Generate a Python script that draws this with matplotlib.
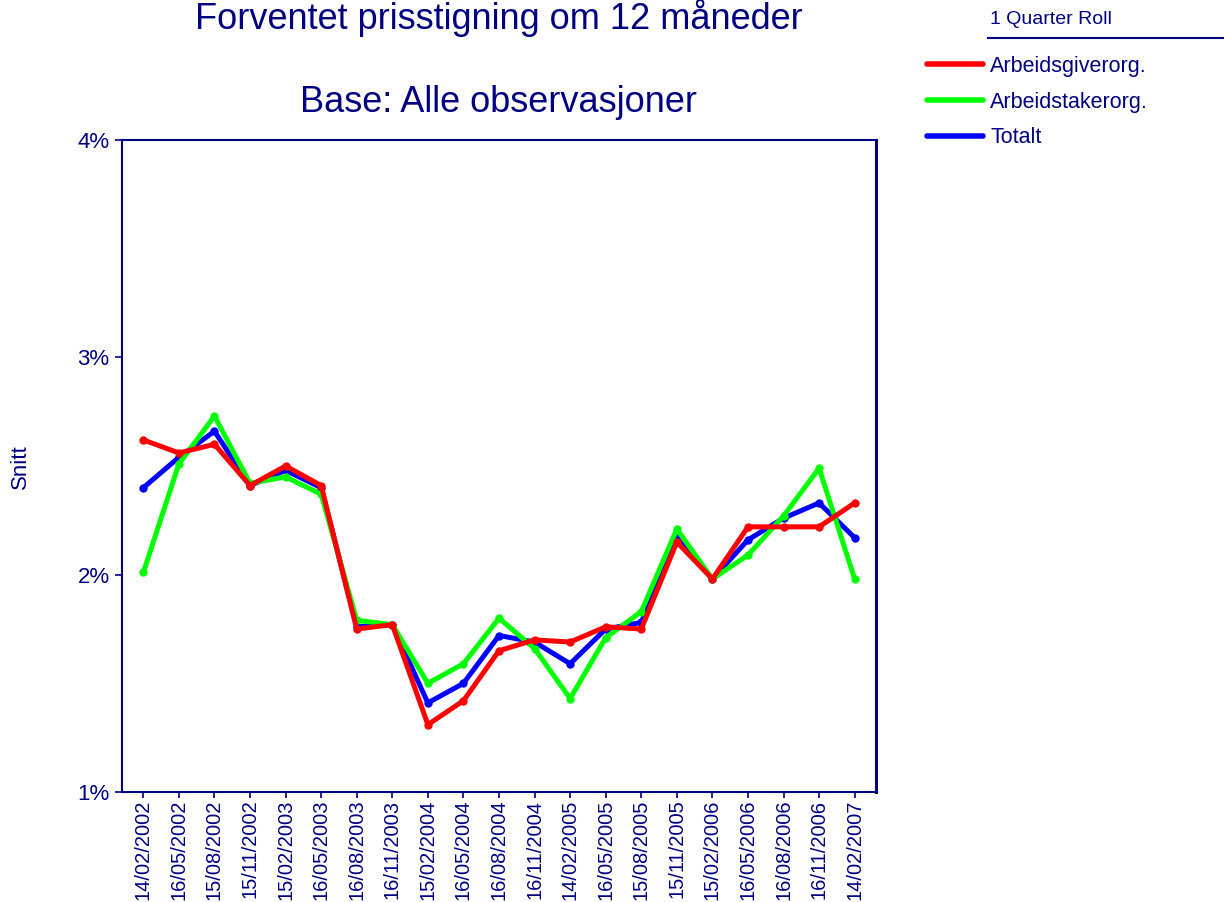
import matplotlib
matplotlib.use("Agg")
import matplotlib.pyplot as plt
from matplotlib.lines import Line2D
from matplotlib.ticker import FuncFormatter, FixedLocator

plt.rcParams['font.family'] = ['Liberation Sans', 'DejaVu Sans']

dates = ["14/02/2002", "16/05/2002", "15/08/2002", "15/11/2002", "15/02/2003",
         "16/05/2003", "16/08/2003", "16/11/2003", "15/02/2004", "16/05/2004",
         "16/08/2004", "16/11/2004", "14/02/2005", "16/05/2005", "15/08/2005",
         "15/11/2005", "15/02/2006", "16/05/2006", "16/08/2006", "16/11/2006",
         "14/02/2007"]

arbeidsgiver = [2.62, 2.56, 2.60, 2.41, 2.50, 2.41, 1.75, 1.77, 1.31, 1.42,
                1.65, 1.70, 1.69, 1.76, 1.75, 2.15, 1.98, 2.22, 2.22, 2.22, 2.33]
arbeidstaker = [2.01, 2.51, 2.73, 2.42, 2.45, 2.37, 1.79, 1.77, 1.50, 1.59,
                1.80, 1.66, 1.43, 1.71, 1.83, 2.21, 1.98, 2.09, 2.27, 2.49, 1.98]
totalt = [2.40, 2.54, 2.66, 2.41, 2.48, 2.40, 1.76, 1.77, 1.41, 1.50,
          1.72, 1.69, 1.59, 1.75, 1.78, 2.17, 1.98, 2.16, 2.26, 2.33, 2.17]

series_names = ["Arbeidsgiverorg.", "Arbeidstakerorg.", "Totalt"]
series_colors = ["#FF0000", "#00FF00", "#0000FF"]

navy = "#000080"
W, H = 1224, 902
fig = plt.figure(figsize=(W / 100, H / 100), dpi=100)
ax = fig.add_axes([122 / W, 1 - 792 / H, (876 - 122) / W, (792 - 140) / H])

x = list(range(len(dates)))
data = [arbeidsgiver, arbeidstaker, totalt]
for i in [2, 1, 0]:
    ax.plot(x, data[i], color=series_colors[i], lw=3.6, marker='o',
            markersize=5, solid_joinstyle='round', zorder=3 + (2 - i))

ax.set_xlim(-0.6, len(dates) - 0.4)
ax.set_ylim(1, 4)
ax.yaxis.set_major_locator(FixedLocator([1, 2, 3, 4]))
ax.yaxis.set_major_formatter(FuncFormatter(lambda v, p: f"{int(round(v))}%"))
ax.set_xticks(x)
ax.set_xticklabels(dates, rotation=90, fontsize=14.5, color=navy)
ax.tick_params(axis='x', direction='out', length=4, width=1.2, color=navy, pad=1.5)
ax.tick_params(axis='y', direction='out', length=5, width=1.2, color=navy,
               labelsize=16, labelcolor=navy, pad=4)
for s in ax.spines.values():
    s.set_color(navy)
    s.set_linewidth(1.5)
ax.spines['right'].set_linewidth(2.2)

ax.set_ylabel("Snitt", fontsize=16, color=navy)
ax.yaxis.set_label_coords(-(122 - 31) / (876 - 122), (792 - 467) / (792 - 140))

fig.text(499 / W, 1 - 18 / H, "Forventet prisstigning om 12 måneder",
         fontsize=26, color=navy, ha='center', va='center')
fig.text(499 / W, 1 - 102 / H, "Base: Alle observasjoner",
         fontsize=26, color=navy, ha='center', va='center')

# legend
handles = [Line2D([], [], color=c, lw=4, solid_capstyle='round') for c in series_colors]
leg = fig.legend(handles, series_names, loc='upper left',
                 bbox_to_anchor=(927 / W, 1 - 56 / H), frameon=False,
                 fontsize=15.5, handlelength=2.6, handletextpad=0.33,
                 labelspacing=0.68, borderpad=0, borderaxespad=0)
for t in leg.get_texts():
    t.set_color(navy)
fig.text(990 / W, 1 - 20 / H, "1 Quarter Roll", fontsize=14, color=navy,
         ha='left', va='center')
fig.add_artist(Line2D([988 / W, 1.0], [1 - 38 / H, 1 - 38 / H],
                      transform=fig.transFigure, color=navy, lw=1.5))

fig.savefig("out.png", dpi=100)
